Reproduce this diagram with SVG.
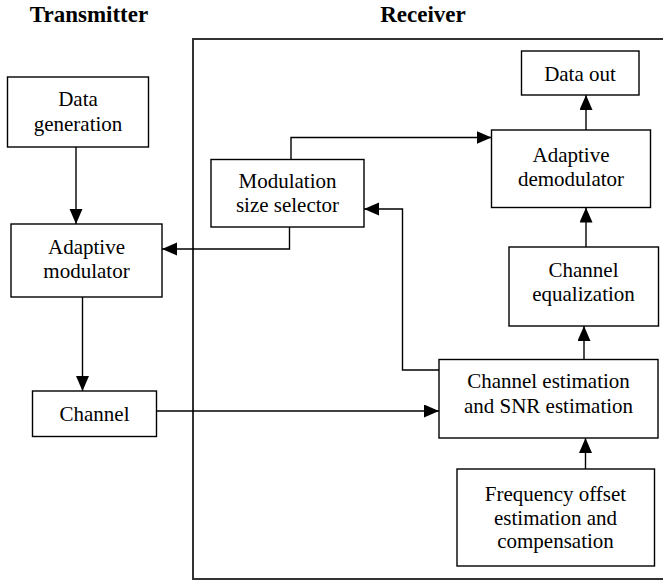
<svg xmlns="http://www.w3.org/2000/svg" width="663" height="583" viewBox="0 0 663 583">
<style>
.box{fill:#fff;stroke:#000;stroke-width:1.4}
text{font-family:"Liberation Serif","DejaVu Serif","Noto Serif",serif;fill:#000;text-anchor:middle}
.t{font-size:21px}
.title{font-size:23px;font-weight:bold}
.c{fill:none;stroke:#000;stroke-width:1.4}
</style>
<defs>
<marker id="ah" markerUnits="userSpaceOnUse" markerWidth="16" markerHeight="14" refX="15" refY="6.5" orient="auto">
<path d="M0,0 L15,6.5 L0,13 Z" fill="#000"/>
</marker>
</defs>
<rect width="663" height="583" fill="#fff"/>
<text class="title" x="89" y="22" font-family="Liberation Serif, serif">Transmitter</text>
<text class="title" x="423" y="22" font-family="Liberation Serif, serif">Receiver</text>
<g id="receiver-frame">
<rect x="193" y="39" width="490" height="540" fill="none" stroke="#333" stroke-width="2"/>
</g>
<g id="connectors">
<line class="c" x1="76" y1="147" x2="76" y2="224" marker-end="url(#ah)"/>
<line class="c" x1="82.5" y1="297" x2="82.5" y2="391" marker-end="url(#ah)"/>
<line class="c" x1="156" y1="411" x2="439" y2="411" marker-end="url(#ah)"/>
<polyline class="c" points="289.5,227 289.5,249 162,249" marker-end="url(#ah)"/>
<polyline class="c" points="291,159.5 291,137.5 491.5,137.5" marker-end="url(#ah)"/>
<polyline class="c" points="439,370 402.5,370 402.5,209 364,209" marker-end="url(#ah)"/>
<line class="c" x1="586" y1="130" x2="586" y2="95" marker-end="url(#ah)"/>
<line class="c" x1="586" y1="247" x2="586" y2="207.5" marker-end="url(#ah)"/>
<line class="c" x1="584" y1="359.5" x2="584" y2="326" marker-end="url(#ah)"/>
<line class="c" x1="585.5" y1="469" x2="585.5" y2="438" marker-end="url(#ah)"/>
</g>
<g id="data-generation">
<rect class="box" x="7.5" y="77" width="141" height="70"/>
<text class="t" x="78" y="105.5" font-family="Liberation Serif, serif">Data</text>
<text class="t" x="78" y="130.5" font-family="Liberation Serif, serif">generation</text>
</g>
<g id="adaptive-modulator">
<rect class="box" x="11" y="224" width="151" height="73"/>
<text class="t" x="86.5" y="254" font-family="Liberation Serif, serif">Adaptive</text>
<text class="t" x="86.5" y="278" font-family="Liberation Serif, serif">modulator</text>
</g>
<g id="channel">
<rect class="box" x="32.5" y="391" width="124" height="45.5"/>
<text class="t" x="94.5" y="421" font-family="Liberation Serif, serif">Channel</text>
</g>
<g id="modulation-size-selector">
<rect class="box" x="211" y="159.5" width="153" height="67.5"/>
<text class="t" x="287.5" y="188" font-family="Liberation Serif, serif">Modulation</text>
<text class="t" x="287.5" y="212" font-family="Liberation Serif, serif">size selector</text>
</g>
<g id="data-out">
<rect class="box" x="521.5" y="51" width="117.5" height="44"/>
<text class="t" x="580" y="80.5" font-family="Liberation Serif, serif">Data out</text>
</g>
<g id="adaptive-demodulator">
<rect class="box" x="491.5" y="130" width="159" height="77.5"/>
<text class="t" x="571" y="161.5" font-family="Liberation Serif, serif">Adaptive</text>
<text class="t" x="571" y="185.5" font-family="Liberation Serif, serif">demodulator</text>
</g>
<g id="channel-equalization">
<rect class="box" x="509" y="247" width="149.5" height="79"/>
<text class="t" x="583.5" y="276.5" font-family="Liberation Serif, serif">Channel</text>
<text class="t" x="583.5" y="300.5" font-family="Liberation Serif, serif">equalization</text>
</g>
<g id="channel-estimation">
<rect class="box" x="439" y="359.5" width="219" height="78.5"/>
<text class="t" x="548.5" y="388" font-family="Liberation Serif, serif">Channel estimation</text>
<text class="t" x="548.5" y="412.5" font-family="Liberation Serif, serif">and SNR estimation</text>
</g>
<g id="frequency-offset">
<rect class="box" x="457" y="469" width="197.5" height="97"/>
<text class="t" x="555.5" y="501" font-family="Liberation Serif, serif">Frequency offset</text>
<text class="t" x="555.5" y="524.5" font-family="Liberation Serif, serif">estimation and</text>
<text class="t" x="555.5" y="548" font-family="Liberation Serif, serif">compensation</text>
</g>
</svg>
